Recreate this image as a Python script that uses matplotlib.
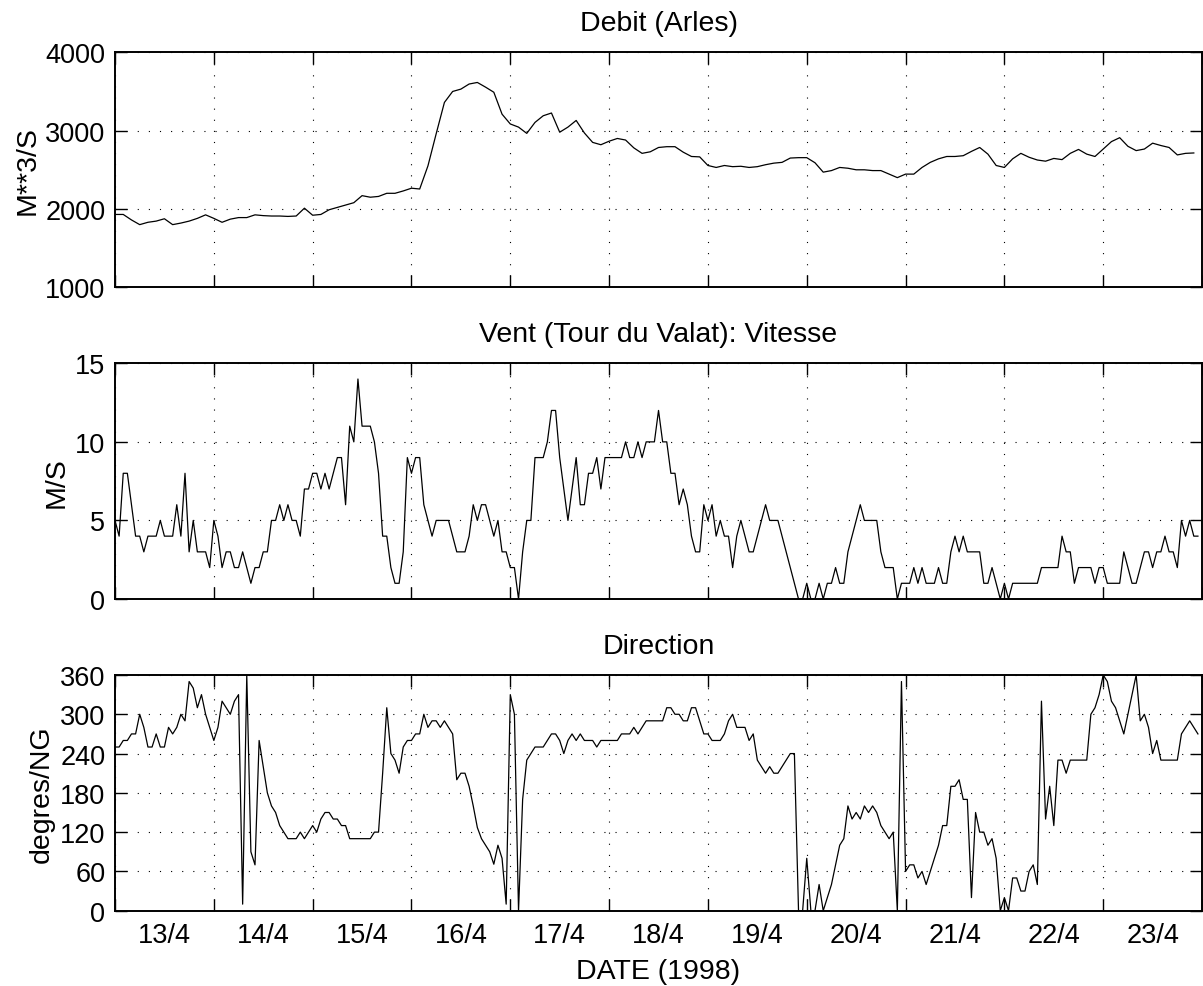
import numpy as np
import matplotlib
matplotlib.use('Agg')
import matplotlib.pyplot as plt
from matplotlib.ticker import FixedLocator, FixedFormatter, NullFormatter

plt.rcParams['font.family'] = ['Liberation Sans', 'DejaVu Sans']
plt.rcParams['font.size'] = 19.5
plt.rcParams['axes.titlesize'] = 20.5
plt.rcParams['axes.labelsize'] = 20.5

# days of april 1998 shown on the x axis
days = list(range(13, 24))
day_labels = [f"{d}/4" for d in days]

# river discharge at Arles, one value every 2 hours from 13/4 00h
debit = [
    1930, 1930, 1860, 1800, 1830, 1845, 1875, 1800, 1820, 1845, 1880, 1925,
    1880, 1830, 1870, 1890, 1890, 1925, 1915, 1910, 1910, 1905, 1910, 2010,
    1920, 1930, 1990, 2020, 2050, 2080, 2170, 2150, 2160, 2200, 2200, 2230,
    2265, 2255, 2550, 2960, 3360, 3500, 3530, 3595, 3615, 3555, 3490, 3210,
    3085, 3045, 2965, 3105, 3190, 3225, 2980, 3045, 3130, 2970, 2850, 2820,
    2865, 2900, 2880, 2780, 2710, 2730, 2785, 2795, 2795, 2725, 2670, 2665,
    2555, 2530, 2555, 2540, 2545, 2530, 2540, 2565, 2585, 2595, 2650, 2655,
    2655, 2590, 2470, 2490, 2530, 2520, 2500, 2500, 2490, 2490, 2445, 2400,
    2445, 2445, 2530, 2595, 2640, 2670, 2670, 2680, 2735, 2785, 2700, 2555,
    2530, 2640, 2710, 2660, 2625, 2610, 2645, 2630, 2710, 2760, 2700, 2670,
    2765, 2860, 2910, 2800, 2745, 2765, 2840, 2810, 2785, 2690, 2710, 2715,
]

# wind speed (m/s) at Tour du Valat, hourly
vitesse = [
    5, 4, 8, 8, 6, 4, 4, 3, 4, 4, 4, 5, 4, 4, 4, 6, 4, 8, 3, 5, 3, 3, 3, 2,
    5, 4, 2, 3, 3, 2, 2, 3, 2, 1, 2, 2, 3, 3, 5, 5, 6, 5, 6, 5, 5, 4, 7, 7,
    8, 8, 7, 8, 7, 8, 9, 9, 6, 11, 10, 14, 11, 11, 11, 10, 8, 4, 4, 2, 1, 1, 3, 9,
    8, 9, 9, 6, 5, 4, 5, 5, 5, 5, 4, 3, 3, 3, 4, 6, 5, 6, 6, 5, 4, 5, 3, 3,
    2, 2, 0, 3, 5, 5, 9, 9, 9, 10, 12, 12, 9, 7, 5, 7, 9, 6, 6, 8, 8, 9, 7, 9,
    9, 9, 9, 9, 10, 9, 9, 10, 9, 10, 10, 10, 12, 10, 10, 8, 8, 6, 7, 6, 4, 3, 3, 6,
    5, 6, 4, 5, 4, 4, 2, 4, 5, 4, 3, 3, 4, 5, 6, 5, 5, 5, 4, 3, 2, 1, 0, 0,
    1, 0, 0, 1, 0, 1, 1, 2, 1, 1, 3, 4, 5, 6, 5, 5, 5, 5, 3, 2, 2, 2, 0, 1,
    1, 1, 2, 1, 2, 1, 1, 1, 2, 1, 1, 3, 4, 3, 4, 3, 3, 3, 3, 1, 1, 2, 1, 0,
    1, 0, 1, 1, 1, 1, 1, 1, 1, 2, 2, 2, 2, 2, 4, 3, 3, 1, 2, 2, 2, 2, 1, 2,
    2, 1, 1, 1, 1, 3, 2, 1, 1, 2, 3, 3, 2, 3, 3, 4, 3, 3, 2, 5, 4, 5, 4, 4,
]

# wind direction (degrees), hourly
direction = [
    250, 250, 260, 260, 270, 270, 300, 280, 250, 250, 270, 250, 250, 280, 270, 280, 300, 290, 350, 340, 310, 330, 300, 280,
    260, 280, 320, 310, 300, 320, 330, 10, 360, 90, 70, 260, 220, 180, 160, 150, 130, 120, 110, 110, 110, 120, 110, 120,
    130, 120, 140, 150, 150, 140, 140, 130, 130, 110, 110, 110, 110, 110, 110, 120, 120, 210, 310, 240, 230, 210, 250, 260,
    260, 270, 270, 300, 280, 290, 290, 280, 290, 280, 270, 200, 210, 210, 190, 160, 127, 110, 100, 90, 71, 100, 80, 10,
    330, 300, 0, 170, 230, 240, 250, 250, 250, 260, 270, 270, 260, 240, 260, 270, 260, 270, 260, 260, 260, 250, 260, 260,
    260, 260, 260, 270, 270, 270, 280, 270, 280, 290, 290, 290, 290, 290, 310, 310, 300, 300, 290, 290, 310, 310, 290, 270,
    270, 260, 260, 260, 270, 290, 300, 280, 280, 280, 260, 270, 230, 220, 210, 220, 210, 210, 220, 230, 240, 240, 0, 0,
    80, 0, 0, 40, 0, 20, 40, 70, 100, 110, 160, 140, 150, 140, 160, 150, 160, 150, 130, 120, 110, 120, 0, 350,
    60, 70, 70, 50, 60, 40, 60, 80, 100, 130, 130, 190, 190, 200, 170, 170, 20, 150, 120, 120, 100, 110, 80, 0,
    20, 0, 50, 50, 30, 30, 60, 70, 40, 320, 140, 190, 130, 230, 230, 210, 230, 230, 230, 230, 230, 300, 310, 330,
    360, 350, 320, 310, 290, 270, 300, 330, 360, 290, 300, 280, 240, 260, 230, 230, 230, 230, 230, 270, 280, 290, 280, 270,
]

t_debit = days[0] + np.arange(len(debit)) * 2 / 24
t_vent = days[0] + np.arange(len(vitesse)) / 24

fig = plt.figure(figsize=(12.03, 9.87), dpi=100)
ax1 = fig.add_axes([0.0956, 0.7079, 0.9036, 0.2381])
ax2 = fig.add_axes([0.0956, 0.3921, 0.9036, 0.2388])
ax3 = fig.add_axes([0.0956, 0.0763, 0.9036, 0.2388])


def style(ax, yticks):
    ax.set_xlim(days[0], days[-1] + 1)
    ax.set_ylim(yticks[0], yticks[-1])
    ax.set_yticks(yticks)
    ax.xaxis.set_major_locator(FixedLocator(np.arange(days[0], days[-1] + 2)))
    ax.xaxis.set_major_formatter(NullFormatter())
    ax.xaxis.set_minor_locator(FixedLocator(np.array(days) + 0.5))
    ax.xaxis.set_minor_formatter(NullFormatter())
    ax.tick_params(which='both', direction='in', top=True, right=True)
    ax.tick_params(which='major', length=8.5, width=1.0, pad=7)
    ax.tick_params(which='minor', length=0, pad=8)
    ax.grid(True, which='major', color='black', linestyle=(0, (1, 9)), linewidth=0.8)
    for s in ax.spines.values():
        s.set_linewidth(1.4)


ax1.plot(t_debit, debit, color='black', linewidth=0.9)
style(ax1, [1000, 2000, 3000, 4000])
ax1.set_title('Debit (Arles)', pad=16)
ax1.set_ylabel('M**3/S', labelpad=3)

ax2.plot(t_vent, vitesse, color='black', linewidth=0.9)
style(ax2, [0, 5, 10, 15])
ax2.set_title('Vent (Tour du Valat): Vitesse', pad=16)
ax2.set_ylabel('M/S', labelpad=4)

ax3.plot(t_vent, direction, color='black', linewidth=0.9)
style(ax3, [0, 60, 120, 180, 240, 300, 360])
ax3.set_title('Direction', pad=16)
ax3.set_ylabel('degres/NG', labelpad=4)
ax3.xaxis.set_minor_formatter(FixedFormatter(day_labels))
ax3.set_xlabel('DATE (1998)', labelpad=7)

fig.savefig('out.png', dpi=100)
